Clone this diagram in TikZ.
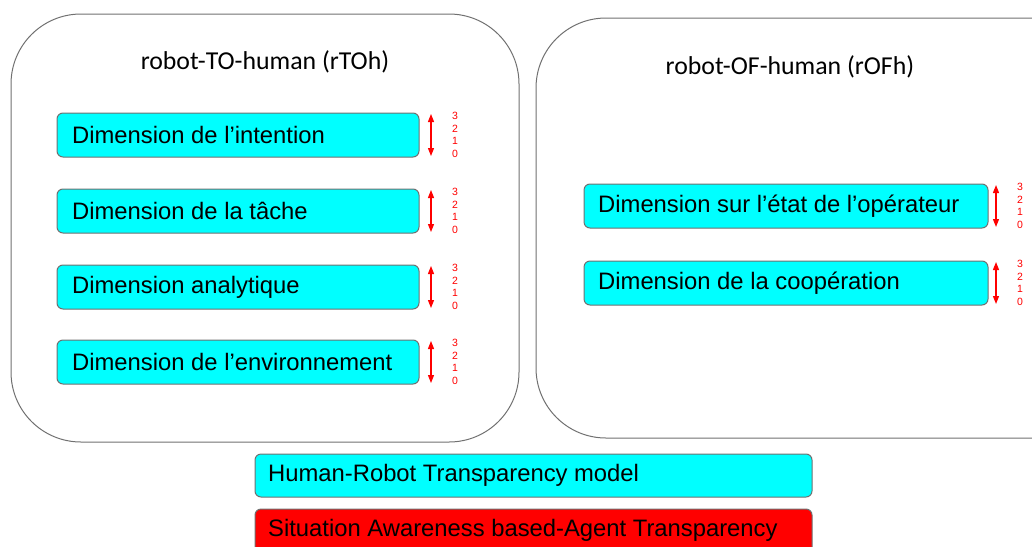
\documentclass[tikz,border=0pt]{standalone}
\usepackage{fontspec}
\setmainfont{Liberation Sans}
\newfontfamily\titlefont{Carlito}
\usetikzlibrary{arrows.meta}
\definecolor{boxcyan}{RGB}{0,255,255}
\definecolor{boxgray}{RGB}{112,112,112}
\begin{document}
\begin{tikzpicture}[x=1pt,y=-1pt,
  bigbox/.style={draw=boxgray, line width=1pt, rounded corners=70pt},
  dimbox/.style={draw=boxgray, fill=boxcyan, line width=1pt, rounded corners=6pt},
  dimtext/.style={anchor=west, font=\fontsize{23.8}{28}\selectfont, inner sep=0pt},
  titletext/.style={font=\titlefont\fontsize{25.8}{30}\selectfont, inner sep=0pt},
  scalearrow/.style={red, line width=1.2pt, {Triangle[length=8pt,width=6pt]}-{Triangle[length=8pt,width=6pt]}},
  scaletext/.style={red, font=\fontsize{10.5}{12.7}\selectfont, align=center, inner sep=0pt}
]
\useasboundingbox (0,0) rectangle (1032,546);
\clip (0,0) rectangle (1032,546);
% big boxes
\draw[bigbox] (11,14) rectangle (519,442);
\draw[bigbox] (536,18) rectangle (1110,438);
\node[titletext] (t1) at (265,62) {robot-TO-human (rTOh)};
\node[titletext] (t2) at (790,67) {robot-OF-human (rOFh)};
% left dimension boxes
\foreach \n/\y/\txt in {a/135/{Dimension de l’intention}, b/211/{Dimension de la tâche}, c/287/{Dimension analytique}, d/362/{Dimension de l’environnement}}{
  \draw[dimbox] (57,\y-22) rectangle (419,\y+22);
  \node[dimtext] (\n) at (72,\y) {\txt};
  \coordinate (\n top) at (431,\y-21);
  \coordinate (\n bot) at (431,\y+21);
  \draw[scalearrow] (\n top) -- (\n bot);
  \node[scaletext] (\n s) at (455,\y) {3\\2\\1\\0};
}
% right dimension boxes
\foreach \n/\y/\txt in {e/206/{Dimension sur l’état de l’opérateur}, f/283/{Dimension de la coopération}}{
  \draw[dimbox] (584,\y-22) rectangle (988,\y+22);
  \node[dimtext] (\n) at (598,\y) {\txt};
  \coordinate (\n top) at (996,\y-21);
  \coordinate (\n bot) at (996,\y+21);
  \draw[scalearrow] (\n top) -- (\n bot);
  \node[scaletext] (\n s) at (1020,\y) {3\\2\\1\\0};
}
% bottom boxes
\draw[dimbox] (255,454) rectangle (812,497);
\node[dimtext] (hrt) at (268,475.5) {Human-Robot Transparency model};
\draw[draw=boxgray, fill=red, line width=1pt, rounded corners=6pt] (255,509) rectangle (812,570);
\node[dimtext] (sat) at (268,530) {Situation Awareness based-Agent Transparency};
\end{tikzpicture}
\end{document}
